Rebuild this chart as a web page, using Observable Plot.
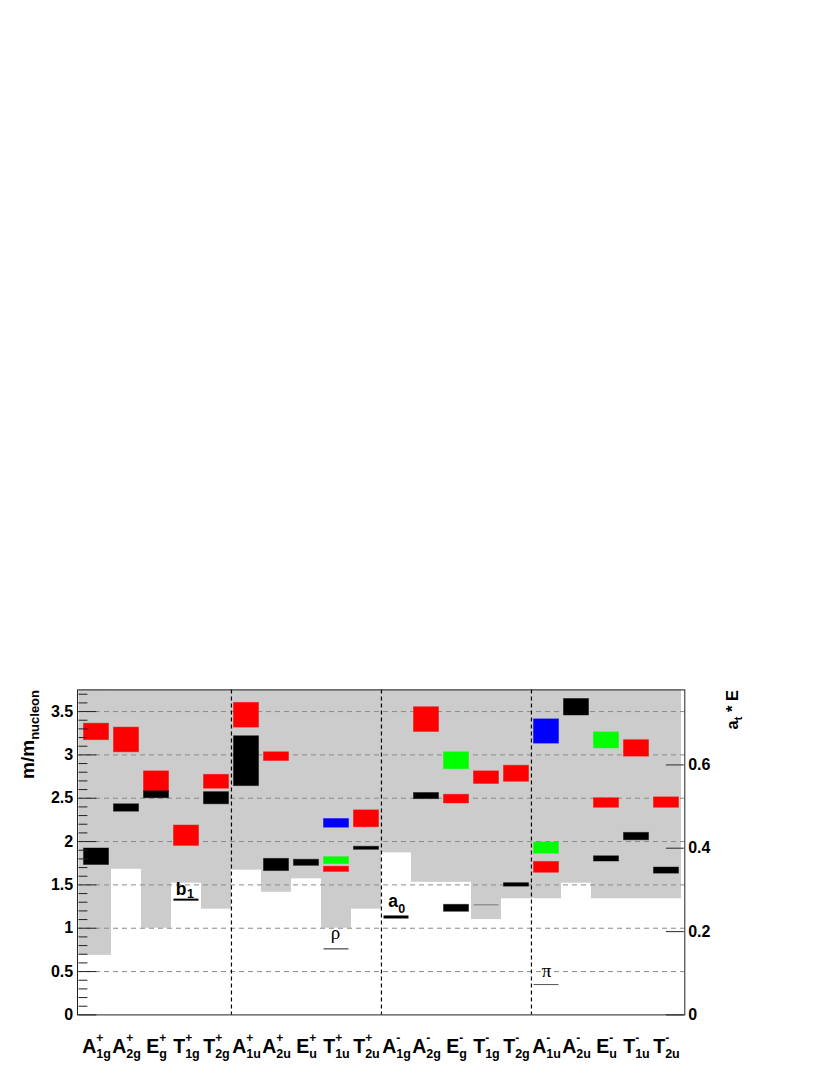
<!DOCTYPE html>
<html>
<head>
<meta charset="utf-8">
<script src="https://cdn.jsdelivr.net/npm/d3@7"></script>
<script src="https://cdn.jsdelivr.net/npm/@observablehq/plot@0.6"></script>
<style>
  html, body { margin: 0; padding: 0; background: #fff; }
  #chart svg { display: block; }
</style>
</head>
<body>
<div id="chart"></div>
<script>
// ---------- data ----------
const irrepLetter = ["A","A","E","T","T","A","A","E","T","T","A","A","E","T","T","A","A","E","T","T"];
const irrepSub    = ["1g","2g","g","1g","2g","1u","2u","u","1u","2u","1g","2g","g","1g","2g","1u","2u","u","1u","2u"];
const irrepSup    = ["+","+","+","+","+","+","+","+","+","+","-","-","-","-","-","-","-","-","-","-"];
const categories  = irrepLetter.map((l, i) => l + irrepSub[i] + irrepSup[i]);

// lower edge of the grey (shaded) column in each channel, m/m_nucleon
const greyFloor = [0.69, 1.68, 1.00, 1.52, 1.22, 1.67, 1.415, 1.57, 1.00, 1.22,
                   1.87, 1.53, 1.53, 1.10, 1.34, 1.34, 1.52, 1.34, 1.34, 1.34];

// mass bands (boxes)
const boxChannel = ["A1g+","A1g+","A2g+","A2g+","Eg+","Eg+","T1g+","T2g+","T2g+",
                    "A1u+","A1u+","A2u+","A2u+","Eu+","T1u+","T1u+","T1u+","T2u+","T2u+",
                    "A2g-","A2g-","Eg-","Eg-","Eg-","T1g-","T2g-","T2g-",
                    "A1u-","A1u-","A1u-","A2u-","Eu-","Eu-","Eu-","T1u-","T1u-","T2u-","T2u-"];
const boxLow  = [3.17, 1.73, 3.03, 2.345, 2.58, 2.50, 1.95, 2.61, 2.43,
                 3.315, 2.64, 2.93, 1.66, 1.72, 2.16, 1.74, 1.65, 2.165, 1.905,
                 3.265, 2.49, 2.835, 2.44, 1.19, 2.665, 2.69, 1.48,
                 3.13, 1.86, 1.64, 3.455, 3.075, 2.39, 1.77, 2.98, 2.015, 2.39, 1.63];
const boxHigh = [3.36, 1.92, 3.315, 2.43, 2.81, 2.58, 2.185, 2.77, 2.57,
                 3.60, 3.215, 3.03, 1.80, 1.79, 2.26, 1.82, 1.71, 2.36, 1.94,
                 3.55, 2.56, 3.03, 2.54, 1.27, 2.81, 2.875, 1.52,
                 3.41, 1.99, 1.765, 3.645, 3.26, 2.50, 1.83, 3.17, 2.10, 2.51, 1.70];
// operator set of each box: K = set 1, R = set 2, B = set 3, G = set 4
const boxSet = ["R","K","R","K","R","K","R","R","K",
                "R","K","R","K","K","B","G","R","R","K",
                "R","K","G","R","K","R","R","K",
                "B","G","R","K","G","R","K","R","K","R","K"];
const setKeys    = ["K", "R", "B", "G"];
const setColours = ["#000000", "#ff0000", "#0000ff", "#00ff00"];

// experimental reference states
const stateName    = ["b1", "rho", "a0", "pi"];
const stateChannel = ["T1g+", "T1u+", "A1g-", "A1u-"];
const stateMass    = [1.33, 0.762, 1.13, 0.35];
const stateLabel   = ["b", "\u03c1", "a", "\u03c0"];
const stateSubLabel= ["1", "", "0", ""];
// extra unlabelled reference line
const extraLineChannel = ["T1g-"];
const extraLineMass    = [1.27];

// axes
const leftMajorTicks = [0, 0.5, 1, 1.5, 2, 2.5, 3, 3.5];
const leftMinorTicks = d3.range(0, 3.71, 0.1).map(v => +v.toFixed(1)).filter(v => !leftMajorTicks.includes(v));
const gridLines      = [0.5, 1, 1.5, 2, 2.5, 3, 3.5];
const rightTicks     = [0, 0.2, 0.4, 0.6];   // a_t * E
const atPerMass      = 0.208;                // a_t * m_nucleon
const sectorStarts   = ["A1u+", "A1g-", "A1u-"];

// ---------- tables ----------
const bins   = categories.map((c, i) => ({cat: c, floor: greyFloor[i]}));
const boxes  = boxChannel.map((c, i) => ({cat: c, lo: boxLow[i], hi: boxHigh[i], set: boxSet[i]}));
const states = stateName.map((n, i) => ({name: n, cat: stateChannel[i], mass: stateMass[i], label: stateLabel[i], sub: stateSubLabel[i]}));
const extraLines = extraLineChannel.map((c, i) => ({cat: c, mass: extraLineMass[i]}));
const st = n => states.filter(d => d.name === n);

// ---------- layout ----------
const W = 830, H = 1075;
const mTop = 689.4, mBottom = 60.6, mLeft = 77, mRight = 145.7;
const xInL = 2.5, xInR = 2.8;
const yMax = 3.75;
const bw = (W - mLeft - mRight - xInL - xInR) / categories.length;
const FONT = "'Liberation Sans', Arial, Helvetica, sans-serif";
const SERIF = "'Liberation Serif', 'Times New Roman', serif";

const chart = Plot.plot({
  width: W, height: H,
  marginTop: mTop, marginBottom: mBottom, marginLeft: mLeft, marginRight: mRight,
  style: {fontFamily: FONT, fontWeight: "bold", background: "#fff", color: "#000", overflow: "visible"},
  x: {type: "band", domain: categories, padding: 0, insetLeft: xInL, insetRight: xInR},
  y: {domain: [0, yMax]},
  color: {type: "ordinal", domain: setKeys, range: setColours},
  marks: [
    // grey shaded columns
    Plot.barY(bins, {x: "cat", y1: "floor", y2: yMax, fill: "#cccccc", inset: 0}),
    Plot.barY(bins.slice(0, 1), {x: "cat", y1: "floor", y2: yMax, fill: "#cccccc", insetLeft: -xInL, insetRight: 0}),
    // dashed grid
    Plot.ruleY(gridLines, {stroke: "#8a8a8a", strokeWidth: 1, strokeDasharray: "5,4"}),
    // sector dividers
    Plot.ruleX(sectorStarts, {stroke: "#000", strokeWidth: 1.2, strokeDasharray: "4,3", dx: -bw / 2}),
    // boxes
    Plot.barY(boxes, {x: "cat", y1: "lo", y2: "hi", fill: "set", stroke: "set", strokeOpacity: 0.45, strokeWidth: 1, insetLeft: 2.5, insetRight: 2.5}),
    // reference lines
    Plot.tickY(st("b1"), {x: "cat", y: "mass", stroke: "#000", strokeWidth: 2, insetLeft: 2.5, insetRight: 2.5}),
    Plot.tickY(st("a0"), {x: "cat", y: "mass", stroke: "#000", strokeWidth: 3, insetLeft: 2.5, insetRight: 2.5}),
    Plot.tickY(st("rho"), {x: "cat", y: "mass", stroke: "#222", strokeWidth: 1, insetLeft: 2.5, insetRight: 2.5}),
    Plot.tickY(st("pi"), {x: "cat", y: "mass", stroke: "#555", strokeWidth: 1, insetLeft: 2.5, insetRight: 2.5}),
    Plot.tickY(extraLines, {x: "cat", y: "mass", stroke: "#777", strokeWidth: 1, insetLeft: 2.5, insetRight: 2.5}),
    // reference labels
    Plot.text(st("b1"), {x: "cat", y: "mass", text: "label", textAnchor: "end", lineAnchor: "bottom", dx: 0, dy: -4.6, fontSize: 17.5, fontWeight: "bold", fill: "#000"}),
    Plot.text(st("b1"), {x: "cat", y: "mass", text: "sub", textAnchor: "start", lineAnchor: "bottom", dx: 0.5, dy: -1.5, fontSize: 12.5, fontWeight: "bold", fill: "#000"}),
    Plot.text(st("a0"), {x: "cat", y: "mass", text: "label", textAnchor: "end", lineAnchor: "bottom", dx: 1.5, dy: -9.7, fontSize: 17.5, fontWeight: "bold", fill: "#000"}),
    Plot.text(st("a0"), {x: "cat", y: "mass", text: "sub", textAnchor: "start", lineAnchor: "bottom", dx: 1.8, dy: -3.8, fontSize: 12.5, fontWeight: "bold", fill: "#000"}),
    Plot.text(st("rho"), {x: "cat", y: "mass", text: "label", textAnchor: "middle", lineAnchor: "bottom", dx: -1, dy: -9.8, fontSize: 19, fontWeight: "normal", fontFamily: SERIF, fill: "#000"}),
    Plot.text(st("pi"), {x: "cat", y: "mass", text: "label", textAnchor: "middle", lineAnchor: "bottom", dx: 0, dy: -7.4, fontSize: 19, fontWeight: "normal", fontFamily: SERIF, fill: "#000"}),
    // axis tick marks (drawn inward, ROOT style)
    Plot.tickY(leftMajorTicks, {x: () => categories[0], y: d => d, stroke: "#222", strokeWidth: 1, insetLeft: -xInL, insetRight: bw - 18 + xInL}),
    Plot.tickY(leftMinorTicks, {x: () => categories[0], y: d => d, stroke: "#222", strokeWidth: 1, insetLeft: -xInL, insetRight: bw - 9 + xInL}),
    Plot.tickY(rightTicks.map(v => v / atPerMass), {x: () => categories[categories.length - 1], y: d => d, stroke: "#444", strokeWidth: 1.2, insetLeft: bw - 18 + xInR, insetRight: -xInR}),
    // axis labels
    Plot.axisY(leftMajorTicks, {anchor: "left", tickSize: 0, tickPadding: 4.3, fontSize: 16, fontWeight: "bold", tickFormat: d => String(d), label: null}),
    Plot.axisY(rightTicks.map(v => v / atPerMass), {anchor: "right", tickSize: 0, tickPadding: 3.4, fontSize: 16, fontWeight: "bold", tickFormat: d => d3.format(".1~f")(d * atPerMass), label: null}),
    Plot.axisX({anchor: "bottom", tickSize: 0, tickPadding: 38, fontSize: 19.5, fontWeight: "bold", tickFormat: d => d, label: null}),
    Plot.frame({stroke: "#222", strokeWidth: 1})
  ]
});

document.getElementById("chart").appendChild(chart);

// ---------- rich tick labels: A_{1g}^{+} ----------
chart.querySelectorAll('[aria-label="x-axis tick label"] text').forEach(node => {
  const key = node.textContent;
  const i = categories.indexOf(key);
  if (i < 0) return;
  const t = d3.select(node);
  t.text(null).attr("y", null).attr("dy", null).attr("font-weight", "bold");
  t.append("tspan").text(irrepLetter[i]);
  const sup = t.append("tspan").attr("font-size", 12).attr("dy", -10.5).text(irrepSup[i]);
  const w = sup.node().getComputedTextLength();
  t.append("tspan").attr("font-size", 12.5).attr("dx", -w).attr("dy", 15.3).text(irrepSub[i]);
});

// ---------- axis titles ----------
const svg = d3.select(chart);
const yTitle = svg.append("text")
  .attr("transform", `translate(33.5,${mTop + 0.6}) rotate(-90)`)
  .attr("text-anchor", "end").attr("font-family", FONT).attr("font-weight", "bold")
  .attr("font-size", 19).attr("fill", "#000");
yTitle.append("tspan").text("m/m");
yTitle.append("tspan").attr("font-size", 13).attr("dy", 5.8).text("nucleon");

const rTitle = svg.append("text")
  .attr("transform", `translate(738,${mTop + 0.6}) rotate(-90)`)
  .attr("text-anchor", "end").attr("font-family", FONT).attr("font-weight", "bold")
  .attr("font-size", 16.5).attr("fill", "#000");
rTitle.append("tspan").text("a");
rTitle.append("tspan").attr("font-size", 11).attr("dy", 4).text("t");
rTitle.append("tspan").attr("dy", -4).text(" * E");
</script>
</body>
</html>
